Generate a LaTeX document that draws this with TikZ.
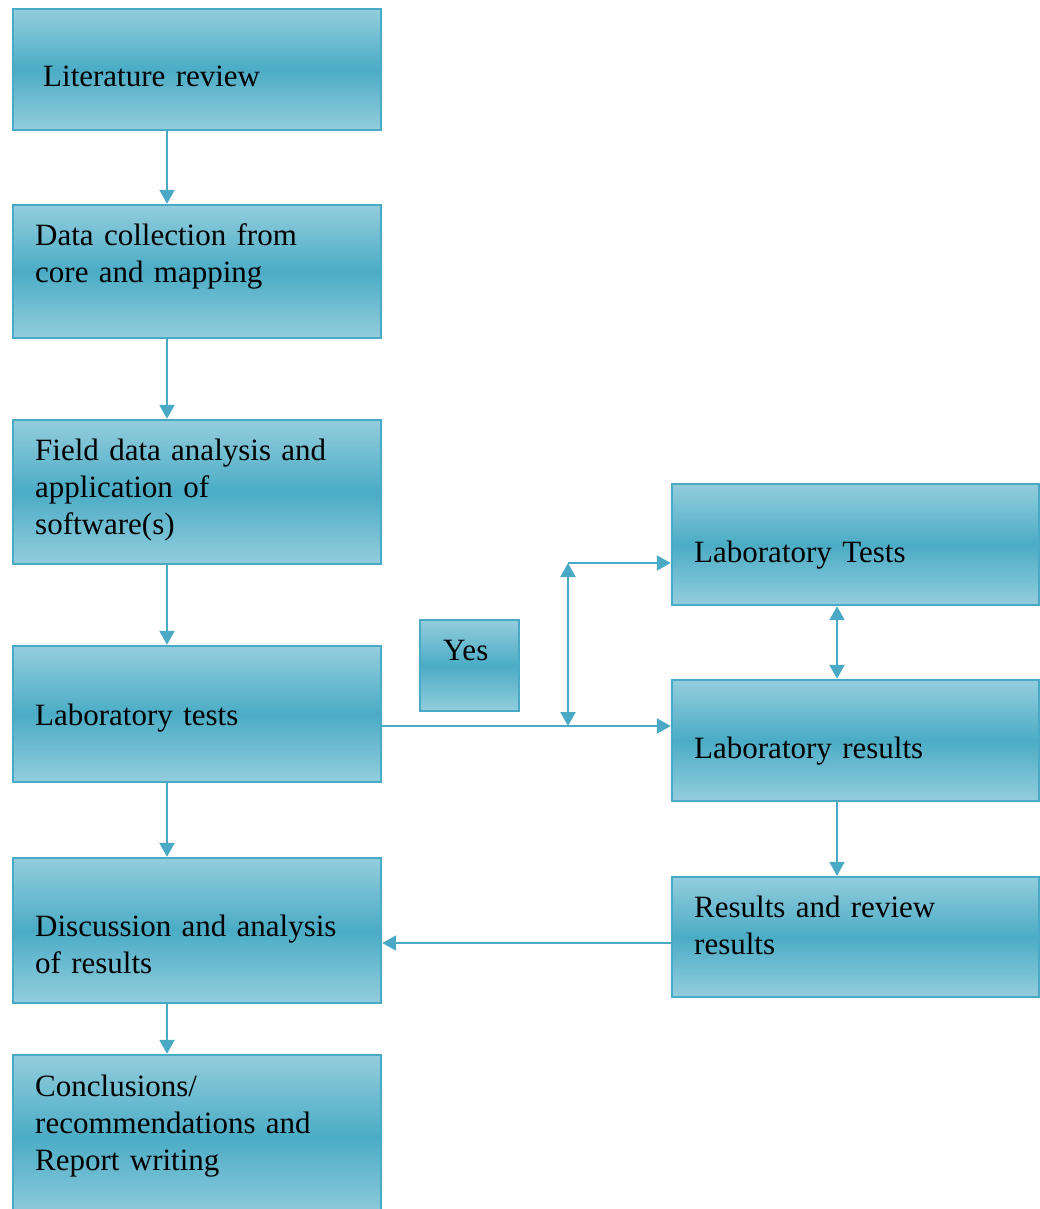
\documentclass[tikz,border=0pt]{standalone}
\usepackage{fontspec}
\setmainfont{Liberation Serif}
\usetikzlibrary{arrows.meta,calc}
\definecolor{boxlight}{RGB}{147,205,221}
\definecolor{boxdark}{RGB}{75,172,198}
\definecolor{edge}{RGB}{74,170,197}
\tikzset{
  box/.style={draw=edge, line width=2.4pt, top color=boxlight, bottom color=boxlight, middle color=boxdark, inner sep=0pt},
  lbl/.style={anchor=base west, inner sep=0pt, text width=340pt, align=left, font=\fontsize{31}{37}\selectfont},
  arr/.style={draw=edge, line width=2.4pt, -{Triangle[length=14pt,width=15pt]}},
  darr/.style={draw=edge, line width=2.4pt, {Triangle[length=14pt,width=15pt]}-{Triangle[length=14pt,width=15pt]}}
}
\begin{document}
\begin{tikzpicture}[x=1pt,y=-1pt]
\useasboundingbox (0,0) rectangle (1040,1209);
\clip (0,0) rectangle (1040,1209);
% boxes
\node[box, minimum width=368pt, minimum height=121pt] (b1) at (197,69.5) {};
\node[box, minimum width=368pt, minimum height=133pt] (b2) at (197,271.5) {};
\node[box, minimum width=368pt, minimum height=144pt] (b3) at (197,492) {};
\node[box, minimum width=368pt, minimum height=136pt] (b4) at (197,714) {};
\node[box, minimum width=368pt, minimum height=145pt] (b5) at (197,930.5) {};
\node[box, minimum width=368pt, minimum height=165pt] (b6) at (197,1137.5) {};
\node[box, minimum width=99pt, minimum height=91pt] (yes) at (469.5,665.5) {};
\node[box, minimum width=367pt, minimum height=121pt] (r1) at (855.5,544.5) {};
\node[box, minimum width=367pt, minimum height=121pt] (r2) at (855.5,740.5) {};
\node[box, minimum width=367pt, minimum height=120pt] (r3) at (855.5,937) {};
% texts
\node[lbl] (t1) at (43,87) {Literature review};
\node[lbl] (t2) at (35,245) {Data collection from\\core and mapping};
\node[lbl] (t3) at (35,460) {Field data analysis and\\application of\\software(s)};
\node[lbl] (t4) at (35,725) {Laboratory tests};
\node[lbl] (t5) at (35,936) {Discussion and analysis\\of results};
\node[lbl] (t6) at (35,1096) {Conclusions/\\recommendations and\\Report writing};
\node[lbl, text width=70pt] (ty) at (443,660) {Yes};
\node[lbl] (s1) at (694,562) {Laboratory Tests};
\node[lbl] (s2) at (694,758) {Laboratory results};
\node[lbl] (s3) at (694,917) {Results and review\\results};
% connectors
\draw[arr] ($(b1.south)+(-30,0)$) -- ($(b2.north)+(-30,0)$);
\draw[arr] ($(b2.south)+(-30,0)$) -- ($(b3.north)+(-30,0)$);
\draw[arr] ($(b3.south)+(-30,0)$) -- ($(b4.north)+(-30,0)$);
\draw[arr] ($(b4.south)+(-30,0)$) -- ($(b5.north)+(-30,0)$);
\draw[arr] ($(b5.south)+(-30,0)$) -- ($(b6.north)+(-30,0)$);
\coordinate (j) at (568,726);
\coordinate (k) at (568,563);
\draw[arr] (b4.east |- j) -- (r2.west |- j);
\draw[darr] (k) -- (j);
\draw[arr] (k) -- (r1.west |- k);
\draw[darr] ($(r1.south)+(-18.5,0)$) -- ($(r2.north)+(-18.5,0)$);
\draw[arr] ($(r2.south)+(-18.5,0)$) -- ($(r3.north)+(-18.5,0)$);
\draw[arr] ($(r3.west)+(0,6)$) -- ($(b5.east)+(0,12.5)$);
\end{tikzpicture}
\end{document}
